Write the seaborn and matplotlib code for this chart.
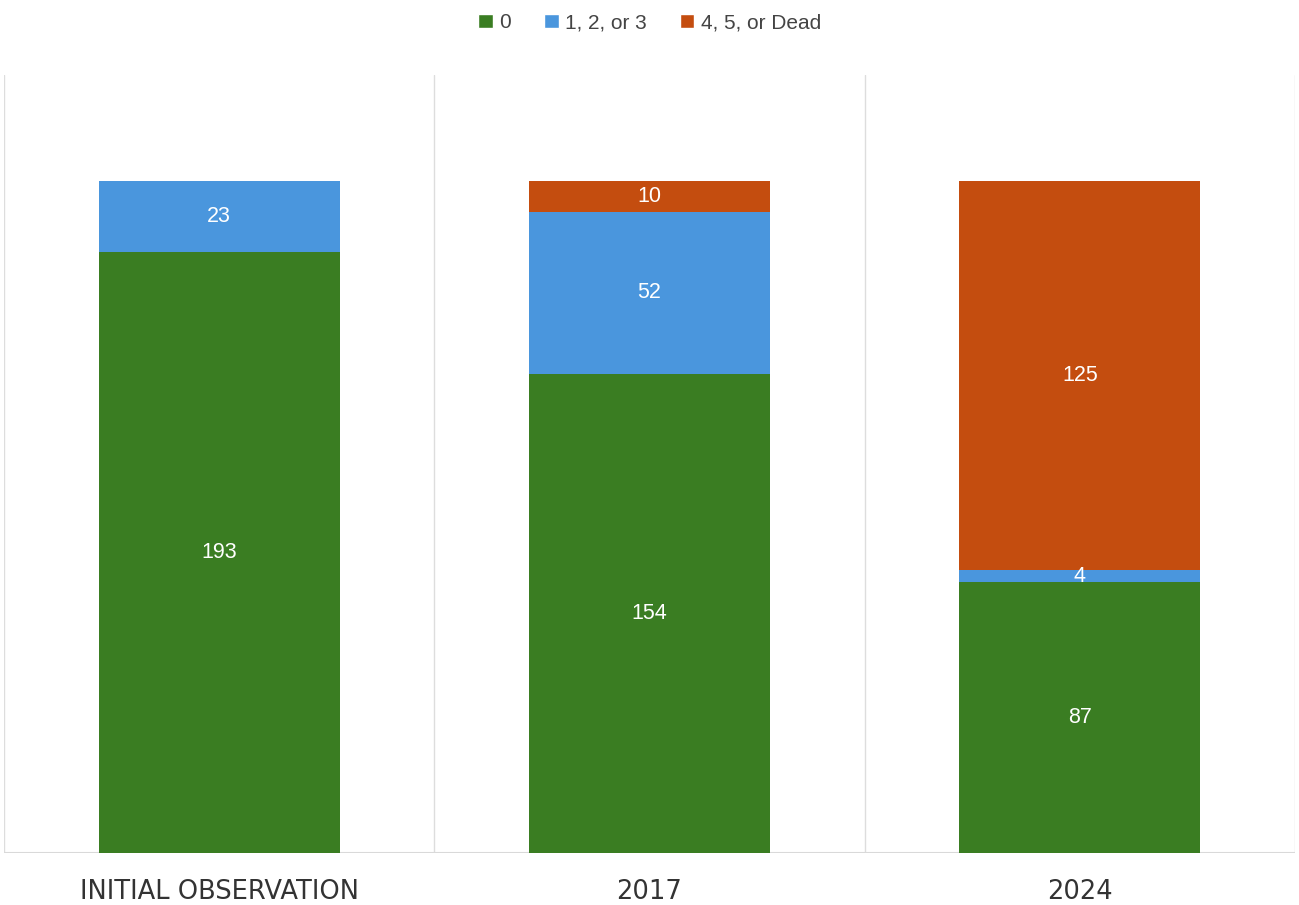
import numpy as np
import pandas as pd
import seaborn as sns
import matplotlib.pyplot as plt
from matplotlib.patches import Patch

# values
periods = ["INITIAL OBSERVATION", "2017", "2024"]
score_0 = [193, 154, 87]
score_123 = [23, 52, 4]
score_45_dead = [0, 10, 125]
series_names = ["0", "1, 2, or 3", "4, 5, or Dead"]
series_colors = ["#3a7d22", "#4a96dd", "#c44d0f"]

sns.set_theme(style="white")
plt.rcParams['font.family'] = ['Liberation Sans', 'DejaVu Sans']

fig = plt.figure(figsize=(12.99, 9.05), dpi=100)
ax = fig.add_axes([0.003, 0.0575, 0.994, 0.8595])

layers = [score_0, score_123, score_45_dead]
bottom = np.zeros(len(periods))
for name, vals, col in zip(series_names, layers, series_colors):
    df = pd.DataFrame({"period": periods, "count": vals})
    sns.barplot(data=df, x="period", y="count", color=col, width=0.56,
                bottom=bottom, saturation=1, ax=ax, linewidth=0)
    cont = ax.containers[-1]
    labels = [str(v) if v > 0 else "" for v in vals]
    ax.bar_label(cont, labels=labels, label_type="center", color="white",
                 fontsize=15.5)
    bottom = bottom + np.array(vals)

ax.set_xlim(-0.5, len(periods) - 0.5)
ax.set_ylim(0, 250)
ax.set_xlabel("")
ax.set_ylabel("")
ax.set_yticks([])
ax.set_xticks(range(len(periods)))
ax.set_xticklabels(periods, fontsize=18.5, color="#333333", family="DejaVu Sans")
ax.tick_params(axis="x", length=0, pad=19)

for xb in np.arange(-0.5, len(periods), 1.0):
    ax.axvline(xb, color="#dddddd", linewidth=1, zorder=0)
ax.axhline(0, color="#d9d9d9", linewidth=1.5, zorder=0)
for s in ax.spines.values():
    s.set_visible(False)

handles = [Patch(facecolor=c, label=n) for n, c in zip(series_names, series_colors)]
fig.legend(handles=handles, loc="center", bbox_to_anchor=(0.5, 0.975), ncol=3,
           frameon=False, fontsize=15, handlelength=0.7, handleheight=0.7,
           handletextpad=0.3, columnspacing=1.6, labelcolor="#444444")

plt.savefig("out.png", dpi=100)
plt.close()
